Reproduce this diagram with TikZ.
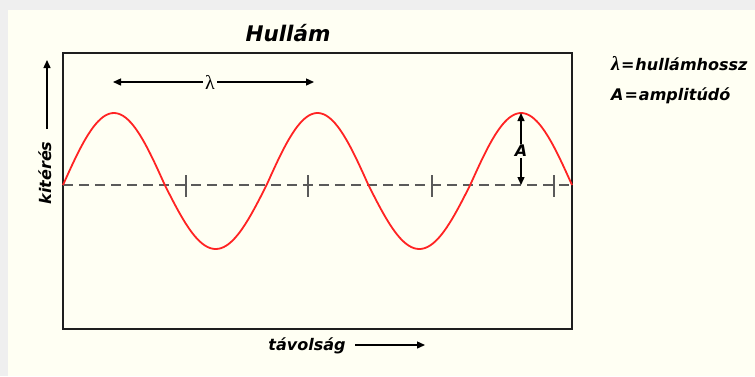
\documentclass[tikz,border=0pt]{standalone}
\usepackage{fontspec}
\setmainfont{DejaVu Sans}
\newfontfamily\lamfont{Liberation Serif}
\usetikzlibrary{arrows.meta}
\definecolor{cream}{RGB}{255,255,243}
\definecolor{greyband}{RGB}{239,239,239}
\definecolor{boxline}{RGB}{30,30,30}
\definecolor{wave}{RGB}{255,35,35}
\definecolor{dashgrey}{RGB}{90,90,90}
\tikzset{
  lbl/.style={font=\fontsize{16}{18}\selectfont\bfseries\itshape, inner sep=1pt},
  ttl/.style={font=\fontsize{21.5}{24}\selectfont\bfseries\itshape, inner sep=0pt},
  arr/.style={draw=black, line width=1.4pt, -{Triangle[length=8pt,width=7pt]}},
  tick/.style={draw=dashgrey, line width=1.1pt},
}
\newcommand{\lamsym}{{\lamfont\fontsize{20}{20}\selectfont λ}}
\begin{document}
\begin{tikzpicture}[x=1pt,y=-1pt]
\useasboundingbox (0,0) rectangle (755,376);
\fill[greyband] (0,0) rectangle (755,376);
\fill[cream] (8,10) rectangle (755,376);
% title
\node[ttl] (title) at (288,33) {Hullám};
% box
\draw[boxline, line width=2pt] (63,53) rectangle (572,329);
% dashed axis
\coordinate (axL) at (63,185);
\coordinate (axR) at (572,185);
\draw[dashgrey, line width=1.2pt, dash pattern=on 10pt off 6pt] (axL) -- (axR);
\foreach \tx in {186,308,432,554}{
  \draw[tick] (\tx,175) -- (\tx,197);
}
% wave
\draw[wave, line width=1.8pt, line join=round] plot[domain=0:509, samples=220, smooth]
  ({63+\x}, {185 - 68*sin(\x/203.6*360) - 4*abs(sin(\x/203.6*360))});
% lambda arrow
\node[fill=cream, inner sep=2pt] (lam) at (210,82) {\lamsym};
\coordinate (lamL) at (113,82);
\coordinate (lamR) at (314,82);
\draw[arr] (lam) -- (lamL);
\draw[arr] (lam) -- (lamR);
% amplitude arrow
\node[lbl, fill=cream] (amp) at (521,151) {A};
\coordinate (peak) at (521,113);
\coordinate (base) at (521,185);
\draw[arr] (amp) -- (peak);
\draw[arr] (amp) -- (base);
% y-axis label
\node[lbl, rotate=90] (kit) at (45,173) {kitérés};
\coordinate (kitTop) at (47,60);
\coordinate (kitBot) at (47,129);
\draw[arr] (kitBot) -- (kitTop);
% x-axis label
\node[lbl] (tav) at (307,346) {távolság};
\coordinate (tavL) at (355,345);
\coordinate (tavR) at (425,345);
\draw[arr] (tavL) -- (tavR);
% legend
\node[lbl, anchor=west] (leg1) at (610,64) {\lamsym\kern1pt=\kern1pt hullámhossz};
\node[lbl, anchor=west] (leg2) at (610,96) {A\kern1pt=\kern1pt amplitúdó};
\end{tikzpicture}
\end{document}
